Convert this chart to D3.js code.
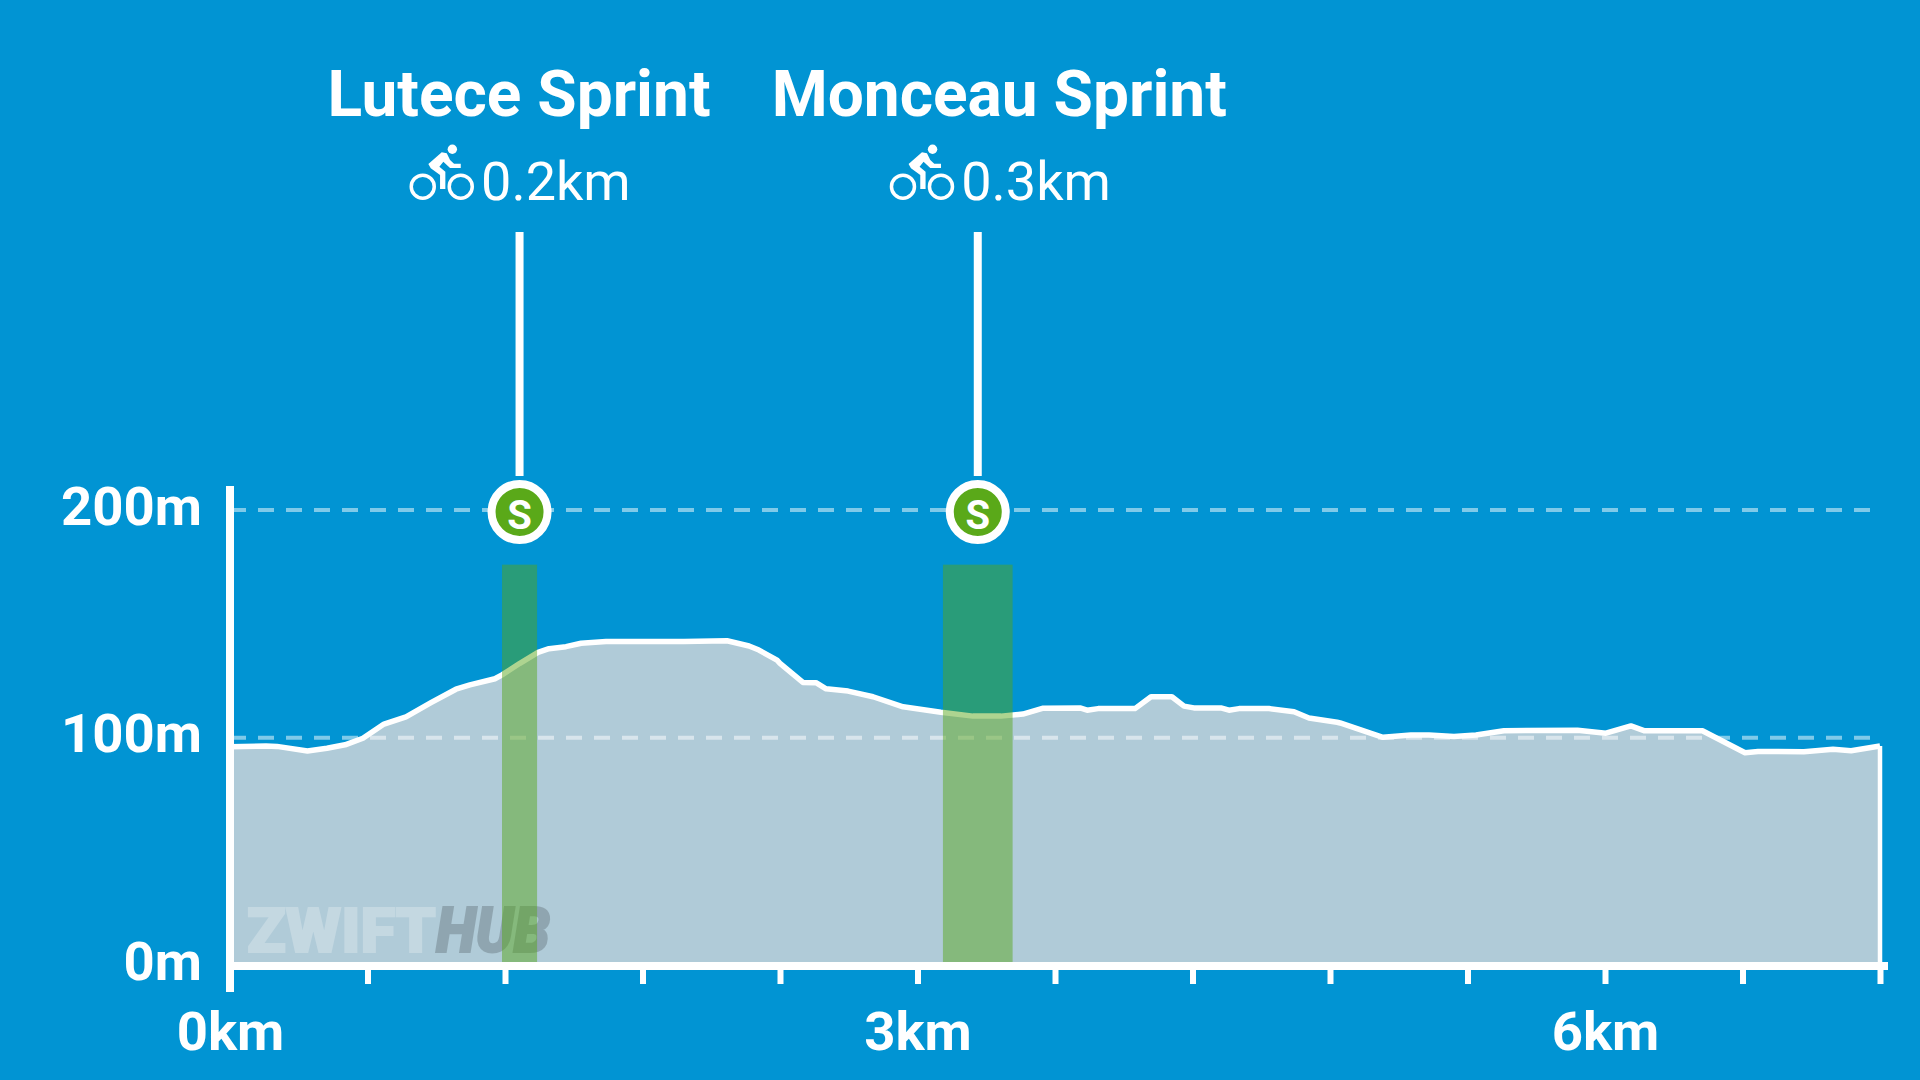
<!DOCTYPE html>
<html>
<head>
<meta charset="utf-8">
<script src="https://cdn.jsdelivr.net/npm/d3@7"></script>
<style>
  html, body { margin: 0; padding: 0; background: #0194d3; }
  svg { display: block; font-family: Roboto, sans-serif; }
</style>
</head>
<body>
<svg id="chart"></svg>
<script>
// route profile
const distanceKm = [0, 0.157, 0.205, 0.338, 0.423, 0.502, 0.58, 0.672, 0.768, 0.877, 0.986, 1.047, 1.156, 1.187, 1.265, 1.344, 1.392, 1.466, 1.532, 1.641, 1.981, 2.169, 2.265, 2.308, 2.387, 2.4, 2.5, 2.557, 2.601, 2.697, 2.806, 2.937, 3.102, 3.242, 3.364, 3.46, 3.545, 3.709, 3.74, 3.788, 3.949, 4.019, 4.11, 4.163, 4.206, 4.324, 4.359, 4.403, 4.534, 4.643, 4.708, 4.831, 4.844, 5.031, 5.153, 5.232, 5.341, 5.437, 5.559, 5.88, 6.004, 6.113, 6.17, 6.425, 6.611, 6.668, 6.868, 6.995, 7.074, 7.2]
const elevationM = [96.1, 96.4, 96.2, 94.2, 95.4, 96.9, 99.8, 106, 109.2, 115.4, 121.3, 123.2, 125.9, 127.6, 132.7, 137.5, 139.1, 140, 141.5, 142.3, 142.3, 142.6, 140.3, 138.5, 134.1, 132.7, 124.3, 124.2, 121.5, 120.5, 118, 113.6, 111.2, 109.5, 109.5, 110.4, 112.9, 113.1, 112.1, 112.8, 112.8, 118, 118, 113.9, 113.1, 113.1, 112.1, 112.8, 112.8, 111.4, 108.7, 106.8, 106.5, 100.2, 101.2, 101.2, 100.5, 101.2, 103.1, 103.3, 102, 105.2, 103.1, 103.1, 93.4, 94, 93.9, 94.9, 94.3, 96.4]

const sprintNames = ['Lutece Sprint', 'Monceau Sprint']
const sprintLengths = ['0.2km', '0.3km']
const sprintStartKm = [1.187, 3.111]
const sprintEndKm = [1.34, 3.415]
const sprintTopM = 176

const xTicks = [0, 0.6, 1.2, 1.8, 2.4, 3, 3.6, 4.2, 4.8, 5.4, 6, 6.6, 7.2]
const xLabelled = [0, 3, 6]
const yTicks = [0, 100, 200]

const width = 1920
const height = 1080
const labelShift = [0, 22] // second label is pushed right of its marker

const chart = d3.select('#chart').attr('width', width).attr('height', height)
chart.append('rect').attr('width', width).attr('height', height).attr('fill', '#0194d3')

const x = d3.scaleLinear().domain([0, 7.2]).range([230, 1880])
const y = d3.scaleLinear().domain([0, 200]).range([965.5, 510])

const points = distanceKm.map((d, i) => [d, elevationM[i]])

const area = d3.area().x(d => x(d[0])).y0(y(0)).y1(d => y(d[1]))
const line = d3.line().x(d => x(d[0])).y(d => y(d[1]))

chart.append('path')
  .datum(points)
  .attr('fill', '#b0cbd8')
  .attr('d', area)

// watermark
const mark = chart.append('g').attr('font-weight', 900).attr('font-size', 62).attr('stroke-width', 2)
mark.append('text')
  .attr('x', 247).attr('y', 952)
  .attr('fill', '#fff').attr('stroke', '#fff').attr('opacity', 0.25)
  .attr('textLength', 189).attr('lengthAdjust', 'spacingAndGlyphs')
  .text('ZWIFT')
mark.append('text')
  .attr('x', 436).attr('y', 952)
  .attr('fill', '#000').attr('stroke', '#000').attr('opacity', 0.18)
  .attr('font-style', 'italic')
  .attr('textLength', 114).attr('lengthAdjust', 'spacingAndGlyphs')
  .text('HUB')

// dashed grid lines at 100m and 200m
chart.append('g')
  .selectAll('line')
  .data(yTicks.slice(1))
  .join('line')
  .attr('x1', x(0))
  .attr('x2', 1870)
  .attr('y1', d => y(d))
  .attr('y2', d => y(d))
  .attr('stroke', '#fff')
  .attr('stroke-opacity', 0.5)
  .attr('stroke-width', 4)
  .attr('stroke-dasharray', '16 12')

// profile line, with the closing edge on the right
chart.append('path')
  .datum(points)
  .attr('fill', 'none')
  .attr('stroke', '#fff')
  .attr('stroke-width', 5.5)
  .attr('stroke-linejoin', 'round')
  .attr('d', line)
chart.append('line')
  .attr('x1', x(7.2)).attr('x2', x(7.2))
  .attr('y1', y(elevationM[elevationM.length - 1])).attr('y2', y(0))
  .attr('stroke', '#fff').attr('stroke-width', 4.5)

// sprint segments
chart.append('g')
  .selectAll('rect')
  .data(sprintNames)
  .join('rect')
  .attr('x', (d, i) => x(sprintStartKm[i]))
  .attr('width', (d, i) => x(sprintEndKm[i]) - x(sprintStartKm[i]))
  .attr('y', y(sprintTopM))
  .attr('height', y(0) - y(sprintTopM))
  .attr('fill', '#56a616')
  .attr('fill-opacity', 0.48)

// axes
const xAxis = chart.append('g')
  .attr('transform', 'translate(0,966)')
  .call(d3.axisBottom(x)
    .tickValues(xTicks)
    .tickSize(18)
    .tickSizeOuter(0)
    .tickFormat(d => xLabelled.includes(d) ? d + 'km' : ''))
xAxis.select('.domain').remove()
xAxis.selectAll('.tick line').attr('stroke', '#fff').attr('stroke-width', 6)
xAxis.selectAll('.tick text')
  .attr('y', 84)
  .attr('dy', 0)
  .attr('fill', '#fff')
  .attr('font-family', 'Roboto, sans-serif')
  .attr('font-weight', 700)
  .attr('font-size', 54.5)
xAxis.append('line')
  .attr('x1', 226).attr('x2', 1888)
  .attr('stroke', '#fff').attr('stroke-width', 8)

const yAxis = chart.append('g')
  .attr('transform', 'translate(230,0)')
  .call(d3.axisLeft(y)
    .tickValues(yTicks)
    .tickSize(0)
    .tickPadding(28)
    .tickFormat(d => d + 'm'))
yAxis.select('.domain').remove()
yAxis.selectAll('.tick text')
  .attr('dy', 14)
  .attr('fill', '#fff')
  .attr('font-family', 'Roboto, sans-serif')
  .attr('font-weight', 700)
  .attr('font-size', 54.5)
yAxis.append('line')
  .attr('y1', 486).attr('y2', 992)
  .attr('stroke', '#fff').attr('stroke-width', 8)

// sprint labels and markers
const sprint = chart.append('g')
  .selectAll('g')
  .data(sprintNames)
  .join('g')
  .attr('class', 'sprint')

sprint.each(function (name, i) {
  const g = d3.select(this)
  const cx = x((sprintStartKm[i] + sprintEndKm[i]) / 2)
  const lx = cx + labelShift[i]

  g.append('text')
    .attr('x', lx - 0.5).attr('y', 116)
    .attr('text-anchor', 'middle')
    .attr('fill', '#fff')
    .attr('font-weight', 700)
    .attr('font-size', 64)
    .text(name)

  g.append('text')
    .attr('x', lx - 38.5).attr('y', 200)
    .attr('fill', '#fff')
    .attr('font-size', 54)
    .text(sprintLengths[i])

  // cyclist icon
  const icon = g.append('g').attr('transform', 'translate(' + (lx - 219.5) + ',40)')
  icon.selectAll('circle.wheel')
    .data([122.7, 160.7])
    .join('circle')
    .attr('class', 'wheel')
    .attr('cx', d => d).attr('cy', 146.7).attr('r', 11.5)
    .attr('fill', 'none').attr('stroke', '#fff').attr('stroke-width', 3.5)
  icon.append('circle')
    .attr('cx', 152.3).attr('cy', 109.3).attr('r', 4.7)
    .attr('fill', '#fff')
  icon.append('path')
    .attr('fill', '#fff')
    .attr('d', 'M128.3,124L141.7,112.3L146.7,113.3L150,120L154,123.7L160.7,123.7L160.7,128L150,128L143.3,121.7L139.3,126.7L145.3,131.7L145.3,149L140,149L140,135L130.7,128.3Z')

  g.append('line')
    .attr('x1', cx).attr('x2', cx)
    .attr('y1', 232).attr('y2', 476)
    .attr('stroke', '#fff').attr('stroke-width', 8)

  g.append('circle')
    .attr('cx', cx).attr('cy', 512).attr('r', 28)
    .attr('fill', '#5aa919')
    .attr('stroke', '#fff').attr('stroke-width', 8)

  g.append('text')
    .attr('x', cx).attr('y', 529)
    .attr('text-anchor', 'middle')
    .attr('fill', '#fff')
    .attr('font-weight', 700)
    .attr('font-size', 40)
    .text('S')
})
</script>
</body>
</html>
